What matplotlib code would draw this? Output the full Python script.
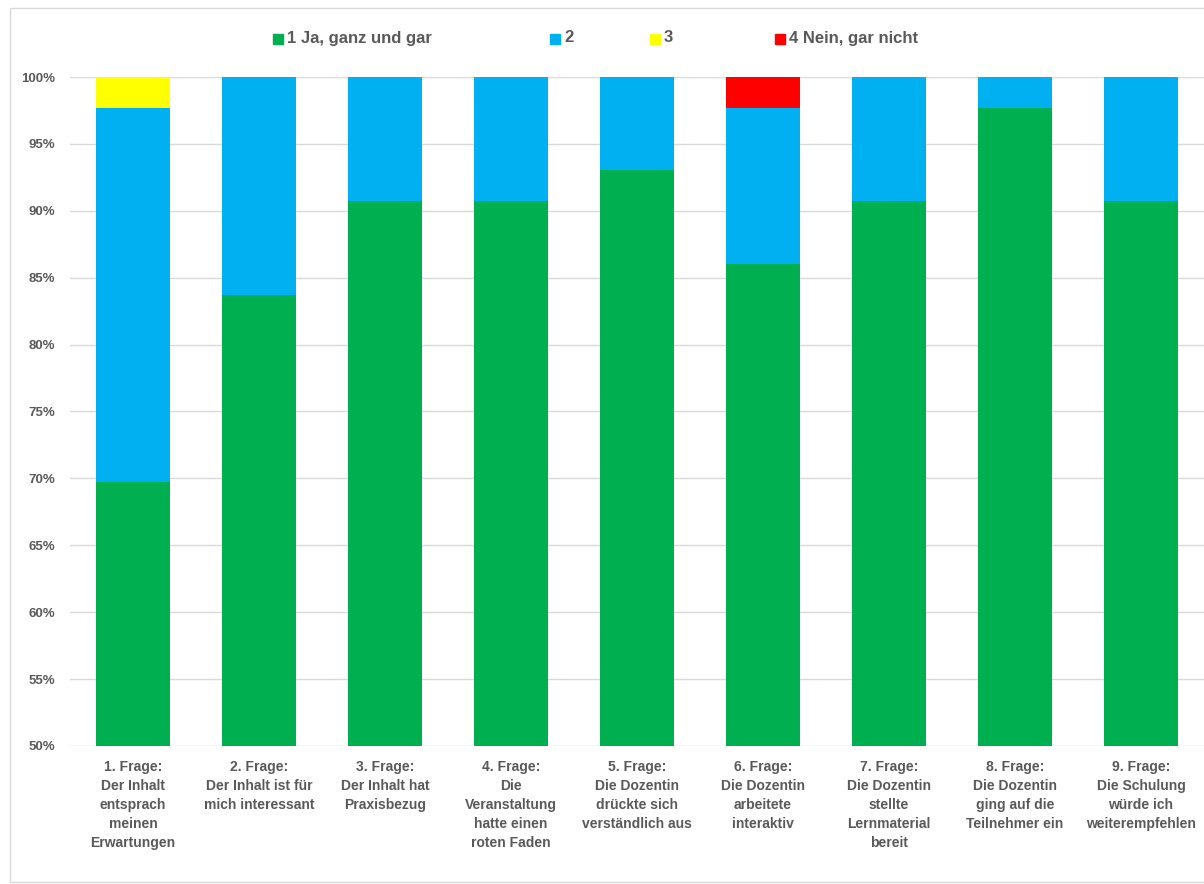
import numpy as np
import matplotlib.pyplot as plt
from matplotlib.patches import Rectangle

plt.rcParams['font.family'] = ['Liberation Sans', 'DejaVu Sans']

# answers per question (43 participants)
fragen = [
    "1. Frage:\nDer Inhalt\nentsprach\nmeinen\nErwartungen",
    "2. Frage:\nDer Inhalt ist für\nmich interessant",
    "3. Frage:\nDer Inhalt hat\nPraxisbezug",
    "4. Frage:\nDie\nVeranstaltung\nhatte einen\nroten Faden",
    "5. Frage:\nDie Dozentin\ndrückte sich\nverständlich aus",
    "6. Frage:\nDie Dozentin\narbeitete\ninteraktiv",
    "7. Frage:\nDie Dozentin\nstellte\nLernmaterial\nbereit",
    "8. Frage:\nDie Dozentin\nging auf die\nTeilnehmer ein",
    "9. Frage:\nDie Schulung\nwürde ich\nweiterempfehlen",
]
n_teilnehmer = 43
antwort_1 = [30, 36, 39, 39, 40, 37, 39, 42, 39]
antwort_2 = [12, 7, 4, 4, 3, 5, 4, 1, 4]
antwort_3 = [1, 0, 0, 0, 0, 0, 0, 0, 0]
antwort_4 = [0, 0, 0, 0, 0, 1, 0, 0, 0]
legende = ["1 Ja, ganz und gar", "2", "3", "4 Nein, gar nicht"]
farben = ["#00B050", "#00B0F0", "#FFFF00", "#FF0000"]
yticks = [50, 55, 60, 65, 70, 75, 80, 85, 90, 95, 100]

grau = "#595959"

fig = plt.figure(figsize=(12.04, 8.84), dpi=100)
ax = fig.add_axes([70 / 1204, 138 / 884, 1134 / 1204, 669 / 884])

x = np.arange(len(fragen))
serien = [antwort_1, antwort_2, antwort_3, antwort_4]
unten = np.zeros(len(fragen))
for werte, farbe in zip(serien, farben):
    proz = np.array(werte) / n_teilnehmer * 100
    ax.bar(x, proz, bottom=unten, width=0.587, color=farbe, zorder=2)
    unten += proz

ax.set_xlim(-0.5, len(fragen) - 0.5)
ax.set_ylim(50, 100)
ax.set_yticks(yticks)
ax.set_yticklabels([f"{t}%" for t in yticks])
ax.yaxis.grid(True, color="#d9d9d9", linewidth=1, zorder=0)
ax.set_axisbelow(True)
for s in ax.spines.values():
    s.set_visible(False)
ax.tick_params(axis="y", length=0, pad=11, labelsize=9.5, labelcolor=grau)
ax.tick_params(axis="x", length=0, pad=10, labelcolor=grau)
ax.set_xticks(x)
ax.set_xticklabels(fragen, fontsize=10, linespacing=1.45)
for lbl in ax.get_xticklabels() + ax.get_yticklabels():
    lbl.set_fontweight("bold")

# legend row along the top
leg_x = [273, 550, 650, 775]
for px, txt, farbe in zip(leg_x, legende, farben):
    fig.patches.append(Rectangle((px / 1204, (884 - 44) / 884), 10 / 1204, 10 / 884,
                                 transform=fig.transFigure, color=farbe))
    fig.text((px + 14) / 1204, (884 - 38) / 884, txt, fontsize=12, color=grau,
             fontweight="bold", va="center", ha="left")

# chart frame
fig.patches.append(Rectangle((10 / 1204, 0.002), 1.2, (884 - 10) / 884,
                             transform=fig.transFigure, fill=False,
                             edgecolor="#d9d9d9", linewidth=1))

fig.savefig("out.png", dpi=100)
